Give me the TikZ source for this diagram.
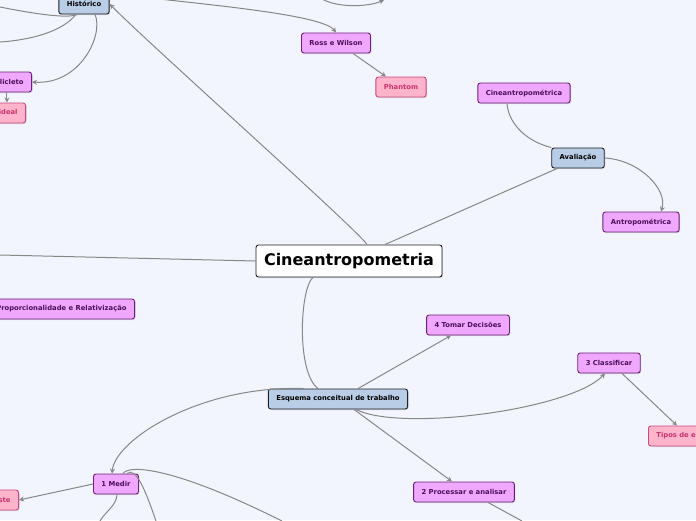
\documentclass[tikz,border=0pt]{standalone}
\usepackage{fontspec}
\setmainfont{DejaVu Sans}
\usetikzlibrary{arrows.meta,shadows}
\definecolor{mapback}{HTML}{F2F5FD}
\definecolor{mapline}{HTML}{878787}
\definecolor{mapink}{HTML}{1C1F24}
\definecolor{blueboxfill}{HTML}{B9CEE6}
\definecolor{violetfill}{HTML}{F0A8FF}
\definecolor{violetedge}{HTML}{6A1F78}
\definecolor{violetink}{HTML}{4D0E5C}
\definecolor{pinkfill}{HTML}{FFB4CC}
\definecolor{pinkedge}{HTML}{C9497A}
\definecolor{pinkink}{HTML}{C8356B}
\newcommand{\smalllabel}{\fontsize{6.8}{8}\selectfont\bfseries}

\begin{document}
\begin{tikzpicture}[
  x=1pt,
  y=-1pt,
  box/.style={rounded corners=2.5pt, line width=0.9pt, minimum height=20pt,
              inner xsep=8pt, inner ysep=0pt, font=\smalllabel,
              drop shadow={shadow xshift=1pt, shadow yshift=-1pt, opacity=0.25}},
  mainnode/.style={box, fill=white, draw=mapink, text=black, minimum height=32pt,
                   font=\fontsize{16}{18}\selectfont\bfseries},
  bluenode/.style={box, fill=blueboxfill, draw=mapink, text=black},
  violetnode/.style={box, fill=violetfill, draw=violetedge, text=violetink},
  pinknode/.style={box, fill=pinkfill, draw=pinkedge, text=pinkink},
  link/.style={mapline, line width=1pt},
  linkarrow/.style={link, -{Stealth[length=5pt, width=5pt]}}
]
  % ---- canvas ------------------------------------------------------------
  \fill[mapback] (0,0) rectangle (696,520);
  \useasboundingbox (0,0) rectangle (696,520);

  % ---- topics ------------------------------------------------------------
  \node[mainnode] (centre) at (349,261) {Cineantropometria};
  \node[bluenode] (hist) at (84,4) {Histórico};
  \node[violetnode] (ross) at (336,43) {Ross e Wilson};
  \node[pinknode] (phantom) at (401,87) {Phantom};
  \node[violetnode] (cinea) at (524,93) {Cineantropométrica};
  \node[bluenode] (aval) at (578,158) {Avaliação};
  \node[violetnode] (antro) at (641,222) {Antropométrica};
  \node[violetnode, anchor=east] (prop) at (135,309)
    {Proporcionalidade e Relativização};
  \node[violetnode] (decid) at (468,325) {4 Tomar Decisões};
  \node[violetnode] (classif) at (609,363) {3 Classificar};
  \node[bluenode] (esquema) at (338,399) {Esquema conceitual de trabalho};
  \node[pinknode, anchor=west] (tipos) at (648,436) {Tipos de estudo};
  \node[violetnode] (medir) at (116,484) {1 Medir};
  \node[pinknode, anchor=east] (teste) at (19,500) {Teste};
  \node[violetnode] (process) at (464,492) {2 Processar e analisar};
  \node[violetnode, anchor=east] (policleto) at (32,82) {Policleto};
  \node[pinknode, anchor=east] (ideal) at (26,113) {Corpo ideal};

  % ---- loose ends beyond the edge ----------------------------------------
  \coordinate (offleft) at (0,255);
  \coordinate (offtopa) at (322,-1);
  \coordinate (offtopb) at (384,0);
  \coordinate (offhista) at (0,7);
  \coordinate (offhistb) at (0,42);
  \coordinate (offproc) at (522,521);
  \coordinate (offmedira) at (100,521);
  \coordinate (offmedirb) at (282,521);
  \coordinate (offmedirc) at (156,521);

  % ---- central topic -----------------------------------------------------
  \draw[linkarrow] ([xshift=18pt]centre.north) .. controls (360,232) and (150,45) .. (hist.east);
  \draw[link] ([xshift=36pt]centre.north) -- ([xshift=6pt]aval.south west);
  \draw[link] (offleft) -- (centre.west);
  \draw[link] ([xshift=-36pt]centre.south) .. controls (300,288) and (296,372) .. ([xshift=-20pt]esquema.north);

  % ---- Histórico ---------------------------------------------------------
  \draw[linkarrow] (hist.north east) .. controls (200,4) and (322,14) .. (ross.north);
  \draw[linkarrow] (offtopa) .. controls (338,8) and (368,7) .. (offtopb);
  \draw[link] ([xshift=-7pt]hist.south) .. controls (70,18) and (45,16) .. (offhista);
  \draw[link] ([xshift=-8pt]hist.south) .. controls (62,32) and (30,40) .. (offhistb);
  \draw[linkarrow] ([xshift=11pt]hist.south) .. controls (104,35) and (80,85) .. (policleto.east);
  \draw[linkarrow] (policleto.south) -- (policleto.south |- ideal.north);
  \draw[linkarrow] ([xshift=17pt]ross.south) -- ([xshift=-15pt]phantom.north);

  % ---- Avaliação ---------------------------------------------------------
  \draw[link] (aval.north west) .. controls (522,140) and (508,120) .. ([xshift=-17pt]cinea.south);
  \draw[linkarrow] (aval.east) .. controls (640,160) and (668,190) .. ([xshift=20pt]antro.north);

  % ---- Esquema conceitual ------------------------------------------------
  \draw[linkarrow] ([xshift=20pt]esquema.north) -- ([xshift=-17pt]decid.south);
  \draw[linkarrow] ([xshift=18pt]esquema.south) .. controls (400,432) and (570,410) .. ([xshift=-4pt]classif.south);
  \draw[linkarrow] ([xshift=13pt]classif.south) -- ([xshift=29pt]tipos.north west);
  \draw[linkarrow] ([xshift=16pt]esquema.south) -- ([xshift=-12pt]process.north);
  \draw[link] ([xshift=24pt]process.south) -- (offproc);
  \draw[linkarrow] ([xshift=-34pt]esquema.north) .. controls (200,385) and (115,440) .. ([xshift=-4pt]medir.north);

  % ---- 1 Medir -----------------------------------------------------------
  \draw[linkarrow] (medir.west) -- (teste.east);
  \draw[link] ([xshift=1pt]medir.south) .. controls (117,505) and (105,512) .. (offmedira);
  \draw[link] ([xshift=7pt]medir.north) .. controls (128,465) and (170,465) .. (offmedirb);
  \draw[link] ([xshift=11pt]medir.north) .. controls (136,466) and (146,492) .. (offmedirc);

\end{tikzpicture}
\end{document}
